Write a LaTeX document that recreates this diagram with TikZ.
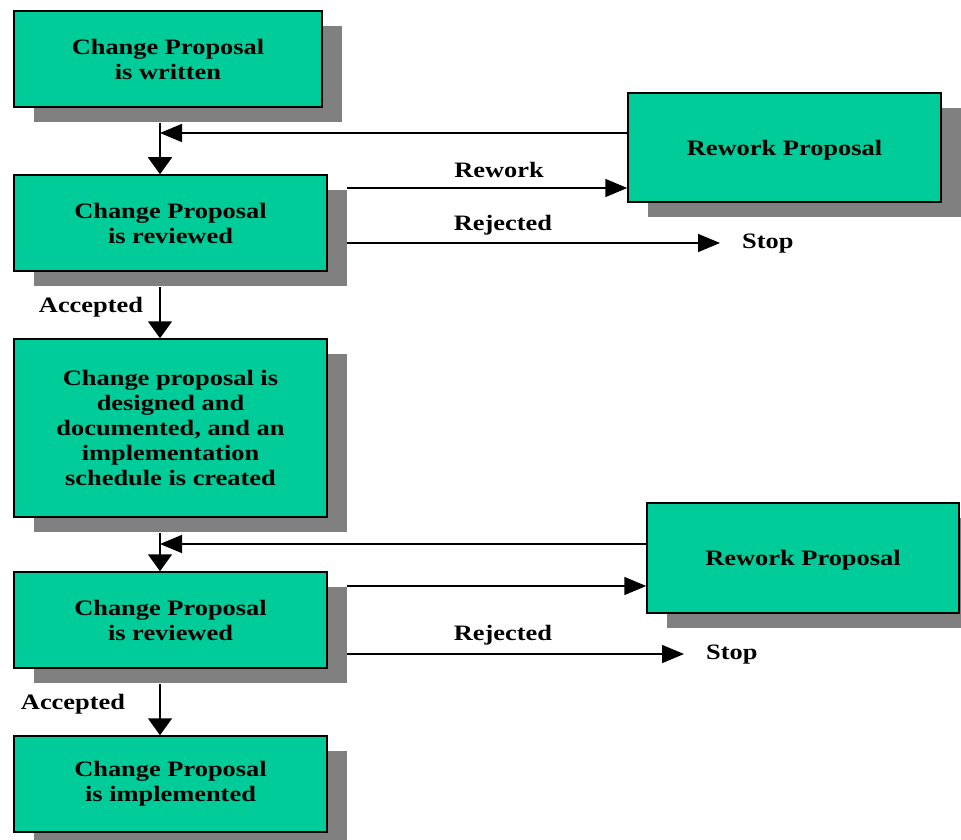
\documentclass[tikz,border=0pt]{standalone}
\usepackage{fontspec}
\setmainfont{Liberation Serif}[FakeStretch=1.2]
\usetikzlibrary{arrows.meta,shadows}
\definecolor{boxgreen}{HTML}{00CC99}
\definecolor{shadowgray}{HTML}{808080}
\begin{document}
\begin{tikzpicture}[x=1pt,y=-1pt,
  txt/.style={font=\bfseries\fontsize{22pt}{25pt}\selectfont},
  box/.style={txt, draw=black, line width=1.5pt, fill=boxgreen, inner sep=0pt, align=center,
    drop shadow={shadow xshift=20pt, shadow yshift=-15pt, fill=shadowgray, opacity=1}},
  lbl/.style={txt, inner sep=0pt},
  varr/.style={draw=black, line width=1.8pt, -{Triangle[length=17pt,width=24pt]}},
  harr/.style={draw=black, line width=1.6pt, -{Triangle[length=22pt,width=18pt]}}]
\useasboundingbox (0,0) rectangle (961,840);

\node[box, minimum width=308pt, minimum height=96pt] (b1) at (168,59) {Change Proposal\\is written};
\node[box, minimum width=313pt, minimum height=96pt] (b2) at (170.5,223) {Change Proposal\\is reviewed};
\node[box, minimum width=313pt, minimum height=178pt] (b3) at (170.5,428) {Change proposal is\\designed and\\documented, and an\\implementation\\schedule is created};
\node[box, minimum width=313pt, minimum height=96pt] (b4) at (170.5,620) {Change Proposal\\is reviewed};
\node[box, minimum width=313pt, minimum height=96pt] (b5) at (170.5,784) {Change Proposal\\is implemented};
\node[box, minimum width=313pt, minimum height=109pt, text depth=0pt] (r1) at (784.5,147.5) {Rework Proposal};
\node[box, minimum width=312pt, minimum height=110pt, text depth=0pt] (r2) at (803,558) {Rework Proposal};

\node[lbl] (lrw) at (499,170) {Rework};
\node[lbl] (lrj1) at (503,225.5) {Rejected};
\node[lbl, anchor=west] (stop1) at (742,243.5) {Stop};
\node[lbl] (lac1) at (91,307.5) {Accepted};
\node[lbl] (lrj2) at (503,635.5) {Rejected};
\node[lbl, anchor=west] (stop2) at (706,654.5) {Stop};
\node[lbl] (lac2) at (73,704.5) {Accepted};

\coordinate (ax) at (160,0);
\coordinate (sx) at (347,0);
\coordinate (ry1) at (0,243);
\coordinate (ry2) at (0,654);

\draw[varr] ([yshift=-15pt]b1.south -| ax) -- (b2.north -| ax);
\draw[harr] ([yshift=14.5pt]r1.west) -- ([yshift=14.5pt]r1.west -| ax);
\draw[harr] ([yshift=-40.5pt]r1.west -| sx) -- ([yshift=-40.5pt]r1.west);
\draw[harr] (sx |- ry1) -- ([xshift=-22pt]stop1.west |- ry1);
\draw[varr] ([yshift=-15pt]b2.south -| ax) -- (b3.north -| ax);
\draw[varr] ([yshift=-15pt]b3.south -| ax) -- (b4.north -| ax);
\draw[harr] ([yshift=14pt]r2.west) -- ([yshift=14pt]r2.west -| ax);
\draw[harr] ([yshift=-28pt]r2.west -| sx) -- ([yshift=-28pt]r2.west);
\draw[harr] (sx |- ry2) -- ([xshift=-22pt]stop2.west |- ry2);
\draw[varr] ([yshift=-15pt]b4.south -| ax) -- (b5.north -| ax);
\end{tikzpicture}
\end{document}
